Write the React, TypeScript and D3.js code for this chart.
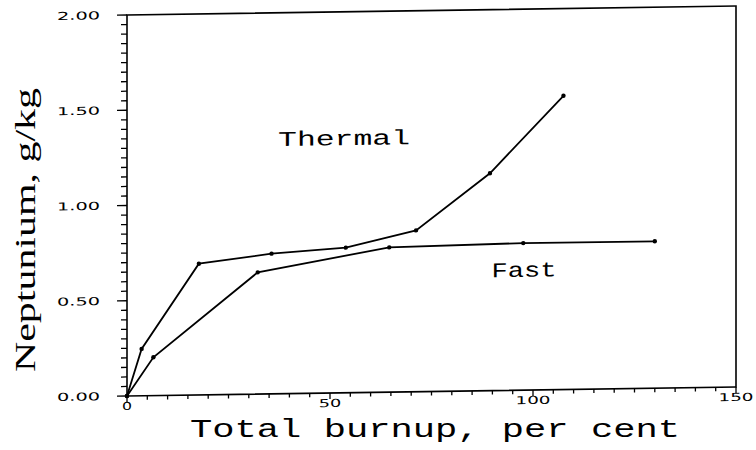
import React from "react";
import * as d3 from "d3";

// ---- data ----
const thermalBurnup = [0, 3.6, 17.7, 35.6, 53.9, 71.2, 89.4, 107.5];
const thermalNp = [0, 0.246, 0.689, 0.736, 0.762, 0.847, 1.141, 1.542];
const fastBurnup = [0, 6.5, 32.2, 64.6, 97.6, 130.0];
const fastNp = [0, 0.201, 0.639, 0.76, 0.772, 0.771];
const xTicks = [0, 50, 100, 150];
const xTickLabels = ["0", "50", "100", "150"];
const yTicks = [0, 0.5, 1.0, 1.5, 2.0];
const yTickLabels = ["0.00", "0.50", "1.00", "1.50", "2.00"];
const seriesNames = ["Thermal", "Fast"];
const labelPos = [
  [37.2, 1.3],
  [89.8, 0.595],
];

const W = 756;
const H = 450;
const L = 127;
const R = 736;
const T = 15;
const B = 396;
const SKEW = -(Math.atan(9 / 609) * 180) / Math.PI;

const monoFont = "Liberation Mono, Cousine, Courier New, monospace";
const sansFont = "DejaVu Sans, sans-serif";
const serifFont = "Liberation Serif, Times New Roman, Tinos, serif";

function tickWidth(s: string) {
  let w = 0;
  for (const c of s) w += c === "." ? 8 : 12.5;
  return w - 2.5;
}

export default function App() {
  const x = d3.scaleLinear().domain([0, 150]).range([L, R]);
  const y = d3.scaleLinear().domain([0, 2]).range([B, T]);

  const minorX = d3.range(0, 150.001, 5);
  const minorY = d3.range(0, 2.0001, 0.05);

  const line = d3
    .line<[number, number]>()
    .x((d) => x(d[0]))
    .y((d) => y(d[1]));

  const thermal: [number, number][] = thermalBurnup.map((b, i) => [b, thermalNp[i]]);
  const fast: [number, number][] = fastBurnup.map((b, i) => [b, fastNp[i]]);
  const series = [thermal, fast];

  return (
    <svg
      width={W}
      height={H}
      viewBox={`0 0 ${W} ${H}`}
      style={{ position: "absolute", left: 0, top: 0, background: "#fff" }}
    >
      <rect x={0} y={0} width={W} height={H} fill="#fff" />
      <g transform={`translate(${L},0) skewY(${SKEW}) translate(${-L},0)`}>
        {/* frame */}
        <rect
          x={L}
          y={T}
          width={R - L}
          height={B - T}
          fill="none"
          stroke="#000"
          strokeWidth={1.6}
        />
        {/* y ticks */}
        {minorY.map((v, i) => {
          const major = i % 10 === 0;
          return (
            <line
              key={"ym" + i}
              x1={L - (major ? 10 : 6)}
              x2={L}
              y1={y(v)}
              y2={y(v)}
              stroke="#000"
              strokeWidth={1.3}
            />
          );
        })}
        {/* x ticks */}
        {minorX.map((v, i) => {
          const major = i % 10 === 0;
          return (
            <line
              key={"xm" + i}
              x1={x(v)}
              x2={x(v)}
              y1={B}
              y2={B + (major ? 6 : 4)}
              stroke="#000"
              strokeWidth={1.3}
            />
          );
        })}
        {/* y tick labels */}
        {yTicks.map((v, i) => (
          <text
            key={"yl" + i}
            x={100}
            y={y(v) + 4}
            textAnchor="end"
            fontFamily={sansFont}
            fontSize={11}
            textLength={tickWidth(yTickLabels[i])}
            lengthAdjust="spacingAndGlyphs"
            fill="#000"
          >
            {yTickLabels[i]}
          </text>
        ))}
        {/* x tick labels */}
        {xTicks.map((v, i) => (
          <text
            key={"xl" + i}
            x={x(v)}
            y={B + 14}
            textAnchor="middle"
            fontFamily={sansFont}
            fontSize={11}
            textLength={tickWidth(xTickLabels[i])}
            lengthAdjust="spacingAndGlyphs"
            fill="#000"
          >
            {xTickLabels[i]}
          </text>
        ))}
        {/* series */}
        {series.map((s, si) => (
          <g key={"s" + si}>
            <path d={line(s) || ""} fill="none" stroke="#000" strokeWidth={1.8} />
            {s.map((d, j) => (
              <circle key={j} cx={x(d[0])} cy={y(d[1])} r={2.2} fill="#000" />
            ))}
          </g>
        ))}
        {/* series labels */}
        {seriesNames.map((n, i) => (
          <text
            key={"n" + i}
            x={x(labelPos[i][0])}
            y={y(labelPos[i][1])}
            fontFamily={monoFont}
            fontSize={21}
            textLength={i === 0 ? 132 : 65}
            lengthAdjust="spacingAndGlyphs"
            fill="#000"
          >
            {n}
          </text>
        ))}
      </g>
      {/* axis titles */}
      <text
        x={190}
        y={437}
        fontFamily={monoFont}
        fontSize={26}
        textLength={490}
        lengthAdjust="spacingAndGlyphs"
        fill="#000"
      >
        Total burnup, per cent
      </text>
      <text
        transform="translate(35,230) rotate(-90)"
        textAnchor="middle"
        fontFamily={serifFont}
        fontSize={29}
        fontWeight={400}
        textLength={284}
        lengthAdjust="spacingAndGlyphs"
        fill="#000"
      >
        Neptunium, g/kg
      </text>
    </svg>
  );
}
